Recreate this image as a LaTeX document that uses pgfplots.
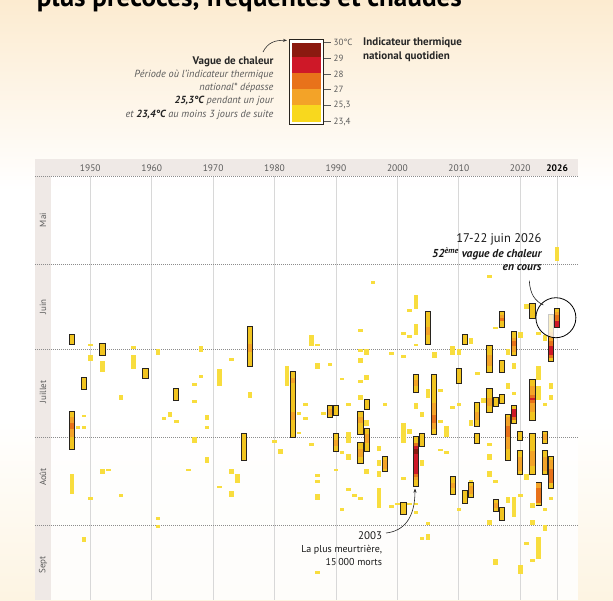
\documentclass[border=0pt]{standalone}
\usepackage{pgfplots}
\pgfplotsset{compat=1.18}
\usepackage{pgfplotstable}
\usepackage{fontspec}
\setmainfont{PT Sans}
\usetikzlibrary{arrows.meta}

\definecolor{cdarkred}{RGB}{139,26,16}
\definecolor{cred}{RGB}{206,24,40}
\definecolor{corange}{RGB}{232,114,26}
\definecolor{clorange}{RGB}{243,163,40}
\definecolor{cyellow}{RGB}{248,216,30}
\definecolor{cgold}{RGB}{241,196,32}
\definecolor{cscatter}{RGB}{248,221,62}
\definecolor{bandgray}{RGB}{239,233,230}
\definecolor{gridgray}{RGB}{216,216,216}
\definecolor{peach}{RGB}{252,235,208}
\definecolor{cream}{RGB}{253,244,226}
\definecolor{txtgray}{RGB}{90,90,90}
\definecolor{boxline}{RGB}{40,36,30}

\newcommand{\fs}[1]{\fontsize{#1}{#1}\selectfont}

\pgfplotsset{
  cellplot/.style 2 args={draw=none, no markers, forget plot,
    error bars/.cd, y dir=both, y explicit, error mark=none,
    error bar style={line width=#1, draw=#2, solid}},
}

% year, first day, last day (day 0 = 1 May)
\pgfplotstableread{
x d0 d1
1947 105 111
1948 88 88
1949 84 84
1949 88 88
1949 127 128
1950 59 59
1950 63 64
1950 113 113
1952 65 68
1952 103 104
1953 103 103
1955 77 78
1955 112 112
1957 60 60
1957 63 67
1961 61 62
1961 120 120
1961 123 123
1962 85 85
1963 83 84
1964 86 86
1966 103 103
1967 73 73
1967 79 79
1967 92 93
1968 60 61
1968 70 70
1969 84 85
1969 88 88
1969 99 100
1971 68 73
1971 109 109
1973 64 64
1973 103 104
1973 111 112
1974 105 107
1976 76 77
1980 93 93
1981 96 97
1982 67 73
1984 83 83
1984 90 90
1985 80 80
1985 85 85
1986 56 59
1986 94 94
1987 59 59
1987 66 67
1987 105 105
1987 107 107
1987 112 113
1987 139 139
1988 83 83
1989 66 66
1990 103 103
1991 71 71
1991 97 97
1991 117 117
1992 80 80
1992 90 93
1992 98 99
1992 110 110
1993 112 112
1994 54 54
1994 61 61
1994 64 65
1994 72 72
1994 77 78
1994 113 113
1995 61 62
1995 70 71
1995 86 87
1995 103 104
1996 37 37
1997 95 96
1997 100 101
1997 104 105
1997 110 116
1998 80 80
1999 62 62
1999 116 116
2000 115 115
2001 55 55
2001 63 63
2001 87 93
2001 106 106
2002 47 47
2002 56 56
2002 89 90
2002 115 115
2003 42 46
2003 52 54
2003 55 55
2003 59 59
2003 80 81
2003 115 115
2003 118 118
2004 83 84
2004 100 101
2004 127 127
2005 75 77
2005 122 122
2005 126 127
2006 62 63
2007 75 75
2007 86 86
2007 96 96
2008 88 89
2008 90 91
2008 97 97
2009 60 62
2009 81 81
2010 61 62
2010 80 80
2010 117 117
2012 57 58
2012 86 87
2012 107 107
2013 69 69
2014 78 79
2015 35 35
2015 94 94
2015 98 99
2015 104 105
2015 121 122
2016 53 53
2016 107 107
2016 135 136
2018 61 62
2018 73 74
2018 113 114
2019 66 67
2019 76 76
2019 113 119
2020 55 56
2020 112 112
2020 137 139
2021 45 46
2021 105 106
2021 129 129
2022 115 116
2022 121 122
2022 135 135
2023 55 55
2023 67 71
2023 74 78
2023 127 134
2024 56 57
2024 80 80
2024 117 117
2024 123 124
2025 73 74
2025 77 78
2025 113 113
2026 25 29
}\scattered

\pgfplotstableread{
x d0 d1
1947 56 58
1947 83 95
1949 71 74
1952 59 62
1959 68 70
1964 75 78
1975 91 99
1976 53 66
1983 69 91
1989 81 84
1990 81 83
1990 91 96
1994 83 90
1994 94 100
1995 79 81
1995 89 96
1998 99 103
2001 115 118
2003 70 75
2003 92 108
2004 91 94
2005 48 58
2006 70 90
2009 106 111
2010 68 72
2011 56 58
2011 111 114
2012 108 112
2013 80 87
2013 91 93
2015 60 68
2015 75 82
2016 78 80
2016 114 117
2017 48 52
2017 65 68
2017 77 79
2017 117 120
2018 84 99
2019 55 62
2019 81 86
2020 90 92
2020 97 104
2022 45 49
2022 72 85
2022 91 104
2023 108 115
2024 90 93
2024 97 104
2025 49 64
2025 99 109
}\waves

\pgfplotstableread{
x d0 d1
1947 85 86
1947 89 91
1976 59 61
1983 71 72
1983 83 85
1989 82 83
1990 93 94
1994 85 86
1994 96 98
1995 91 93
1998 100 102
2003 72 73
2003 106 106
2005 53 55
2006 80 83
2006 87 88
2009 108 109
2012 109 111
2013 83 85
2015 63 66
2015 78 80
2016 115 116
2017 49 49
2018 85 87
2018 92 95
2019 57 57
2019 60 61
2020 99 103
2022 74 76
2022 80 82
2022 97 101
2023 108 109
2024 91 92
2024 99 103
2025 55 57
2025 100 102
}\lorange

\pgfplotstableread{
x d0 d1
1947 87 88
2003 94 94
2003 105 105
2006 84 86
2017 50 50
2018 88 91
2019 58 59
2019 85 85
2022 77 77
2022 79 79
2023 110 114
2025 58 59
2025 63 63
2025 103 107
}\orange

\pgfplotstableread{
x d0 d1
2003 95 104
2019 82 84
2022 78 78
2025 60 62
}\red

\pgfplotstableread{
x d0 d1
2003 96 97
}\darkred

\pgfplotstableread{
x d0 d1
2026 47 52
}\wavenow
\pgfplotstableread{
x d0 d1
2026 48 48
}\lorangenow
\pgfplotstableread{
x d0 d1
2026 49 50
}\orangenow
\pgfplotstableread{
x d0 d1
2026 51 52
}\rednow

\newcommand{\cells}[3]{%
  \addplot[cellplot={#1}{#2}] table[x=x,
    y expr={(\thisrow{d0}+\thisrow{d1}+1)/2},
    y error expr={(\thisrow{d1}-\thisrow{d0}+1)/2}] {#3};}
\newcommand{\outline}[1]{%
  \addplot[cellplot={6.2pt}{boxline}] table[x=x,
    y expr={(\thisrow{d0}+\thisrow{d1}+1)/2},
    y error expr={(\thisrow{d1}-\thisrow{d0}+1.7)/2}] {#1};}

\begin{document}
\begin{tikzpicture}
\useasboundingbox (0pt,0pt) rectangle (613pt,-600pt);
\begin{scope}[x=1pt,y=-1pt]
  \fill[white] (0,0) rectangle (613,600);
  \shade[top color=peach, bottom color=white] (0,0) rectangle (613,190);
  \shade[top color=white, bottom color=cream] (0,420) rectangle (613,600);
  \fill[white, opacity=0.85] (35,159) rectangle (578,600);
  \fill[bandgray] (35,159) rectangle (578,176);
  \fill[bandgray] (35,176) rectangle (51,600);
  % title (cut at top, as in the reference)
  \node[anchor=base west, inner sep=0pt] at (36.7,6.5)
    {\resizebox{425pt}{!}{\fs{26}\bfseries plus précoces, fréquentes et chaudes}};
  % colour bar legend
  \draw[boxline, line width=0.9pt, fill=white] (289.3,39.3) rectangle (323.7,124.3);
  \fill[cdarkred] (292.4,42.7) rectangle (320.6,57.3);
  \fill[cred] (292.4,57.3) rectangle (320.6,73.3);
  \fill[corange] (292.4,73.3) rectangle (320.6,89.3);
  \fill[clorange] (292.4,89.3) rectangle (320.6,105);
  \fill[cyellow] (292.4,105) rectangle (320.6,121.7);
  \foreach \yy/\lab in {42.7/30°C,58.3/29,74/28,89.3/27,105/{25,3},121.7/{23,4}}{
    \draw[txtgray, line width=0.5pt] (324,\yy) -- (331,\yy);
    \node[anchor=west, inner sep=0pt, text=txtgray, font=\fs{9}] at (333.5,\yy) {\lab};
  }
  \node[anchor=west, inner sep=0pt, font=\fs{11}\bfseries, text=black!85] at (363,43) {Indicateur thermique};
  \node[anchor=west, inner sep=0pt, font=\fs{11}\bfseries, text=black!85] at (363,57) {national quotidien};
  \node[anchor=east, inner sep=0pt, font=\fs{11}\bfseries, text=black!85] at (273.6,61.7) {Vague de chaleur};
  \node[anchor=east, inner sep=0pt, font=\fs{10.3}\itshape, text=txtgray] at (273.6,74.5) {Période où l'indicateur thermique};
  \node[anchor=east, inner sep=0pt, font=\fs{10.3}\itshape, text=txtgray] at (273.6,88) {national* dépasse};
  \node[anchor=east, inner sep=0pt, font=\fs{10.3}\itshape, text=txtgray] at (273.6,101) {\textbf{\textcolor{black!85}{25,3°C}} pendant un jour};
  \node[anchor=east, inner sep=0pt, font=\fs{10.3}\itshape, text=txtgray] at (273.6,114.5) {et \textbf{\textcolor{black!85}{23,4°C}} au moins 3 jours de suite};
  \draw[-{Stealth[length=4pt]}, black!80, line width=0.6pt] (263,52) .. controls (268,42) and (276,40) .. (287,40.5);
\end{scope}

\begin{axis}[
  at={(35pt,-176pt)}, anchor=north west,
  width=543pt, height=424pt, scale only axis,
  xmin=1941.0, xmax=2029.4, ymin=0, ymax=149.3, y dir=reverse,
  axis line style={draw=none},
  major tick length=0pt,
  xtick={1950,1960,1970,1980,1990,2000,2010,2020,2026},
  xticklabels={1950,1960,1970,1980,1990,2000,2010,2020,\textcolor{black}{\textbf{2026}}},
  xticklabel pos=right,
  xticklabel style={font=\fs{9.5}, text=txtgray, anchor=base, yshift=4.5pt},
  xmajorgrids, x grid style={color=gridgray, line width=0.7pt},
  ytick={0,31,61,92,123}, yticklabels={},
  ymajorgrids, y grid style={color=black!45, line width=0.6pt, dash pattern=on 0.7pt off 1.3pt},
]
  \node[rotate=90, font=\fs{9}, text=txtgray] at (axis cs:1942.3,15.5) {Mai};
  \node[rotate=90, font=\fs{9}, text=txtgray] at (axis cs:1942.3,46) {Juin};
  \node[rotate=90, font=\fs{9}, text=txtgray] at (axis cs:1942.3,76) {Juillet};
  \node[rotate=90, font=\fs{9}, text=txtgray] at (axis cs:1942.3,106) {Août};
  \node[rotate=90, font=\fs{9}, text=txtgray] at (axis cs:1942.3,137) {Sept};

  \cells{4.6pt}{cscatter}{\scattered}
  \outline{\waves}
  \cells{4.4pt}{cgold}{\waves}
  \cells{4.4pt}{clorange}{\lorange}
  \cells{4.4pt}{corange}{\orange}
  \cells{4.4pt}{cred}{\red}
  \cells{4.4pt}{cdarkred}{\darkred}

  \draw[black, line width=0.8pt, fill=white, fill opacity=0.75] (axis cs:2025.8,49.9) circle[radius=20pt];

  \outline{\wavenow}
  \cells{4.4pt}{cgold}{\wavenow}
  \cells{4.4pt}{clorange}{\lorangenow}
  \cells{4.4pt}{corange}{\orangenow}
  \cells{4.4pt}{cred}{\rednow}
\end{axis}

\begin{scope}[x=1pt,y=-1pt]
  \node[anchor=east, inner sep=0pt, font=\fs{12.5}, text=black!90] at (541.7,239.3) {17-22 juin 2026};
  \node[anchor=east, inner sep=0pt, font=\fs{11.5}\bfseries\itshape, text=black!90] at (541.7,254) {52\textsuperscript{ème} vague de chaleur};
  \node[anchor=east, inner sep=0pt, font=\fs{11.5}\bfseries\itshape, text=black!90] at (541.7,267.5) {en cours};
  \draw[black!85, line width=0.6pt] (529.3,280.7) .. controls (530,294) and (535,301) .. (543.3,305);
  \node[anchor=east, inner sep=0pt, font=\fs{11}, text=black!90] at (382.3,535.7) {2003};
  \node[anchor=east, inner sep=0pt, font=\fs{10}, text=black!90] at (382.3,549.5) {La plus meurtrière,};
  \node[anchor=east, inner sep=0pt, font=\fs{10}, text=black!90] at (382.3,561.5) {15\,000 morts};
  \draw[-{Stealth[length=4pt]}, black!85, line width=0.6pt] (386,533) .. controls (404,531) and (415,518) .. (415,488.5);
\end{scope}
\end{tikzpicture}
\end{document}
